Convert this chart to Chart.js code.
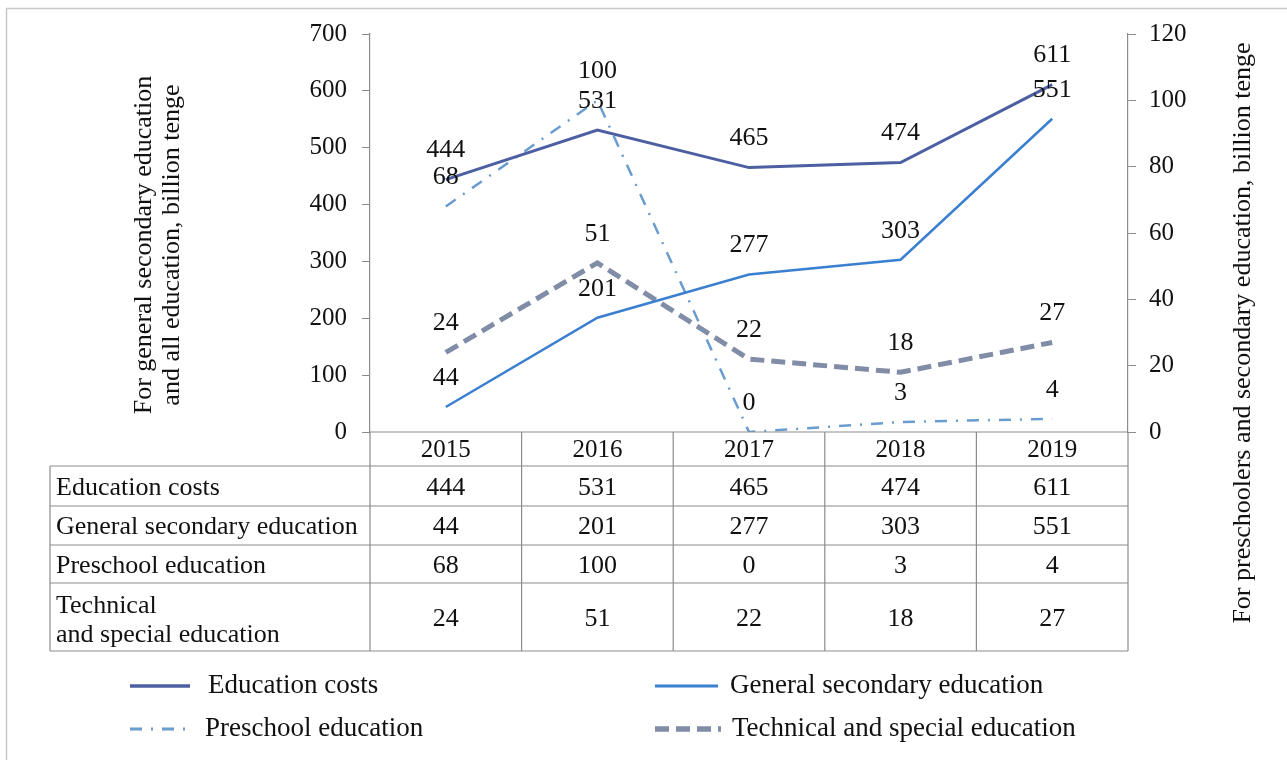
<!DOCTYPE html>
<html>
<head>
<meta charset="utf-8">
<script src="https://cdn.jsdelivr.net/npm/chart.js@4.4.1/dist/chart.umd.min.js"></script>
<style>
  html, body { margin: 0; padding: 0; background: #fff; }
  #wrap { position: relative; width: 1287px; height: 760px; }
</style>
</head>
<body>
<div id="wrap"><canvas id="chart"></canvas></div>
<script>
// Datos
const years = ["2015", "2016", "2017", "2018", "2019"];
const educationCosts = [444, 531, 465, 474, 611];
const generalSecondary = [44, 201, 277, 303, 551];
const preschool = [68, 100, 0, 3, 4];
const technical = [24, 51, 22, 18, 27];
const leftTicks = [0, 100, 200, 300, 400, 500, 600, 700];
const rightTicks = [0, 20, 40, 60, 80, 100, 120];

const FONT = "'Liberation Serif', 'Times New Roman', serif";
const GRID = '#8c8c8c';

Chart.defaults.font.family = FONT;
Chart.defaults.font.size = 25;
Chart.defaults.color = '#111';

const seriesStyle = [
    { label: 'Education costs', data: educationCosts, axis: 'y', color: '#4d5fa3', width: 3, dash: [] },
    { label: 'General secondary education', data: generalSecondary, axis: 'y', color: '#3b7fd0', width: 2.5, dash: [] },
    { label: 'Preschool education', data: preschool, axis: 'y1', color: '#6a9cd0', width: 2.5, dash: [12, 9, 2, 9] },
    { label: 'Technical and special education', data: technical, axis: 'y1', color: '#818da6', width: 5, dash: [14, 7] },
];

// Etiquetas de valores sobre cada punto
const valueLabels = {
    id: 'valueLabels',
    afterDatasetsDraw(chart) {
        const ctx = chart.ctx;
        ctx.save();
        ctx.font = '26px ' + FONT;
        ctx.fillStyle = '#111';
        ctx.textAlign = 'center';
        ctx.textBaseline = 'middle';
        chart.data.datasets.forEach((ds, i) => {
            chart.getDatasetMeta(i).data.forEach((pt, j) => {
                ctx.fillText(String(ds.data[j]), pt.x, pt.y - 29);
            });
        });
        ctx.restore();
    }
};

// Tabla de datos, titulos de ejes, leyenda y marco
const extras = {
    id: 'extras',
    afterDraw(chart) {
        const ctx = chart.ctx;
        const xs = chart.scales.x;
        const area = chart.chartArea;
        const colW = (xs.right - xs.left) / years.length;
        const tableLeft = 50;
        const rowsY = [area.bottom, 466, 506, 545, 583, 651];
        const rowNames = [['Education costs'], ['General secondary education'], ['Preschool education'], ['Technical', 'and special education']];
        const rowData = [educationCosts, generalSecondary, preschool, technical];

        ctx.save();
        // marco exterior
        ctx.strokeStyle = '#c8c8c8';
        ctx.lineWidth = 1.5;
        ctx.beginPath();
        ctx.moveTo(6.5, 760);
        ctx.lineTo(6.5, 8.5);
        ctx.lineTo(1287, 8.5);
        ctx.stroke();

        // lineas de la tabla
        ctx.strokeStyle = GRID;
        ctx.lineWidth = 1.2;
        ctx.beginPath();
        ctx.moveTo(xs.left, rowsY[0]); ctx.lineTo(xs.right, rowsY[0]);
        for (let r = 1; r < rowsY.length; r++) {
            ctx.moveTo(tableLeft, rowsY[r]); ctx.lineTo(xs.right, rowsY[r]);
        }
        ctx.moveTo(tableLeft, rowsY[1]); ctx.lineTo(tableLeft, rowsY[5]);
        for (let c = 0; c <= years.length; c++) {
            const x = xs.left + c * colW;
            ctx.moveTo(x, rowsY[0]); ctx.lineTo(x, rowsY[5]);
        }
        ctx.stroke();

        ctx.fillStyle = '#111';
        ctx.textBaseline = 'middle';
        ctx.textAlign = 'center';
        ctx.font = '25px ' + FONT;
        years.forEach((y, c) => {
            ctx.fillText(y, xs.getPixelForValue(c), (rowsY[0] + rowsY[1]) / 2 + 1);
        });
        ctx.font = '26px ' + FONT;
        rowData.forEach((vals, r) => {
            const mid = (rowsY[r + 1] + rowsY[r + 2]) / 2 + 2;
            ctx.textAlign = 'center';
            vals.forEach((v, c) => ctx.fillText(String(v), xs.getPixelForValue(c), mid));
            ctx.textAlign = 'left';
            const names = rowNames[r];
            if (names.length === 1) {
                ctx.fillText(names[0], tableLeft + 6, mid);
            } else {
                ctx.fillText(names[0], tableLeft + 6, mid - 13);
                ctx.fillText(names[1], tableLeft + 6, mid + 16);
            }
        });

        // titulos de ejes
        ctx.font = '26px ' + FONT;
        ctx.textAlign = 'center';
        ctx.save();
        ctx.translate(144, 245);
        ctx.rotate(-Math.PI / 2);
        ctx.fillText('For general secondary education', 0, 0);
        ctx.fillText('and all education, billion tenge', 0, 28);
        ctx.restore();
        ctx.save();
        ctx.translate(1243, 333);
        ctx.rotate(-Math.PI / 2);
        ctx.fillText('For preschoolers and secondary education, billion tenge', 0, 0);
        ctx.restore();

        // leyenda
        const legendPos = [[130, 686], [655, 686], [130, 729], [655, 729]];
        const lineLen = [60, 63, 64, 66];
        const gap = [18, 12, 11, 11];
        ctx.font = '27px ' + FONT;
        ctx.textAlign = 'left';
        seriesStyle.forEach((s, i) => {
            const [lx, ly] = legendPos[i];
            ctx.strokeStyle = s.color;
            ctx.lineWidth = s.width + 0.5;
            ctx.setLineDash(s.dash);
            ctx.beginPath();
            ctx.moveTo(lx, ly); ctx.lineTo(lx + lineLen[i], ly);
            ctx.stroke();
            ctx.setLineDash([]);
            ctx.fillStyle = '#111';
            ctx.fillText(s.label, lx + lineLen[i] + gap[i], ly);
        });
        ctx.restore();
    }
};

new Chart(document.getElementById('chart'), {
    type: 'line',
    data: {
        labels: years,
        datasets: seriesStyle.map(s => ({
            label: s.label,
            data: s.data,
            yAxisID: s.axis,
            borderColor: s.color,
            backgroundColor: s.color,
            borderWidth: s.width,
            borderDash: s.dash,
            pointRadius: 0,
            tension: 0,
            fill: false,
        })),
    },
    options: {
        responsive: true,
        maintainAspectRatio: false,
        animation: false,
        layout: { padding: { left: 0, right: 0, top: 34, bottom: 328 } },
        plugins: {
            legend: { display: false },
            tooltip: { enabled: false },
        },
        scales: {
            x: {
                display: false,
                offset: true,
            },
            y: {
                position: 'left',
                min: 0,
                max: 700,
                afterFit: s => { s.width = 370; },
                afterBuildTicks: s => { s.ticks = leftTicks.map(v => ({ value: v })); },
                border: { display: true, color: GRID, width: 1.2 },
                grid: { drawOnChartArea: false, drawTicks: true, tickLength: 8, color: GRID },
                ticks: { padding: 15, color: '#111', font: { size: 25 } },
            },
            y1: {
                position: 'right',
                min: 0,
                max: 120,
                afterFit: s => { s.width = 159; },
                afterBuildTicks: s => { s.ticks = rightTicks.map(v => ({ value: v })); },
                border: { display: true, color: GRID, width: 1.2 },
                grid: { drawOnChartArea: false, drawTicks: true, tickLength: 8, color: GRID },
                ticks: { padding: 13, color: '#111', font: { size: 25 } },
            },
        },
    },
    plugins: [valueLabels, extras],
});
</script>
</body>
</html>
